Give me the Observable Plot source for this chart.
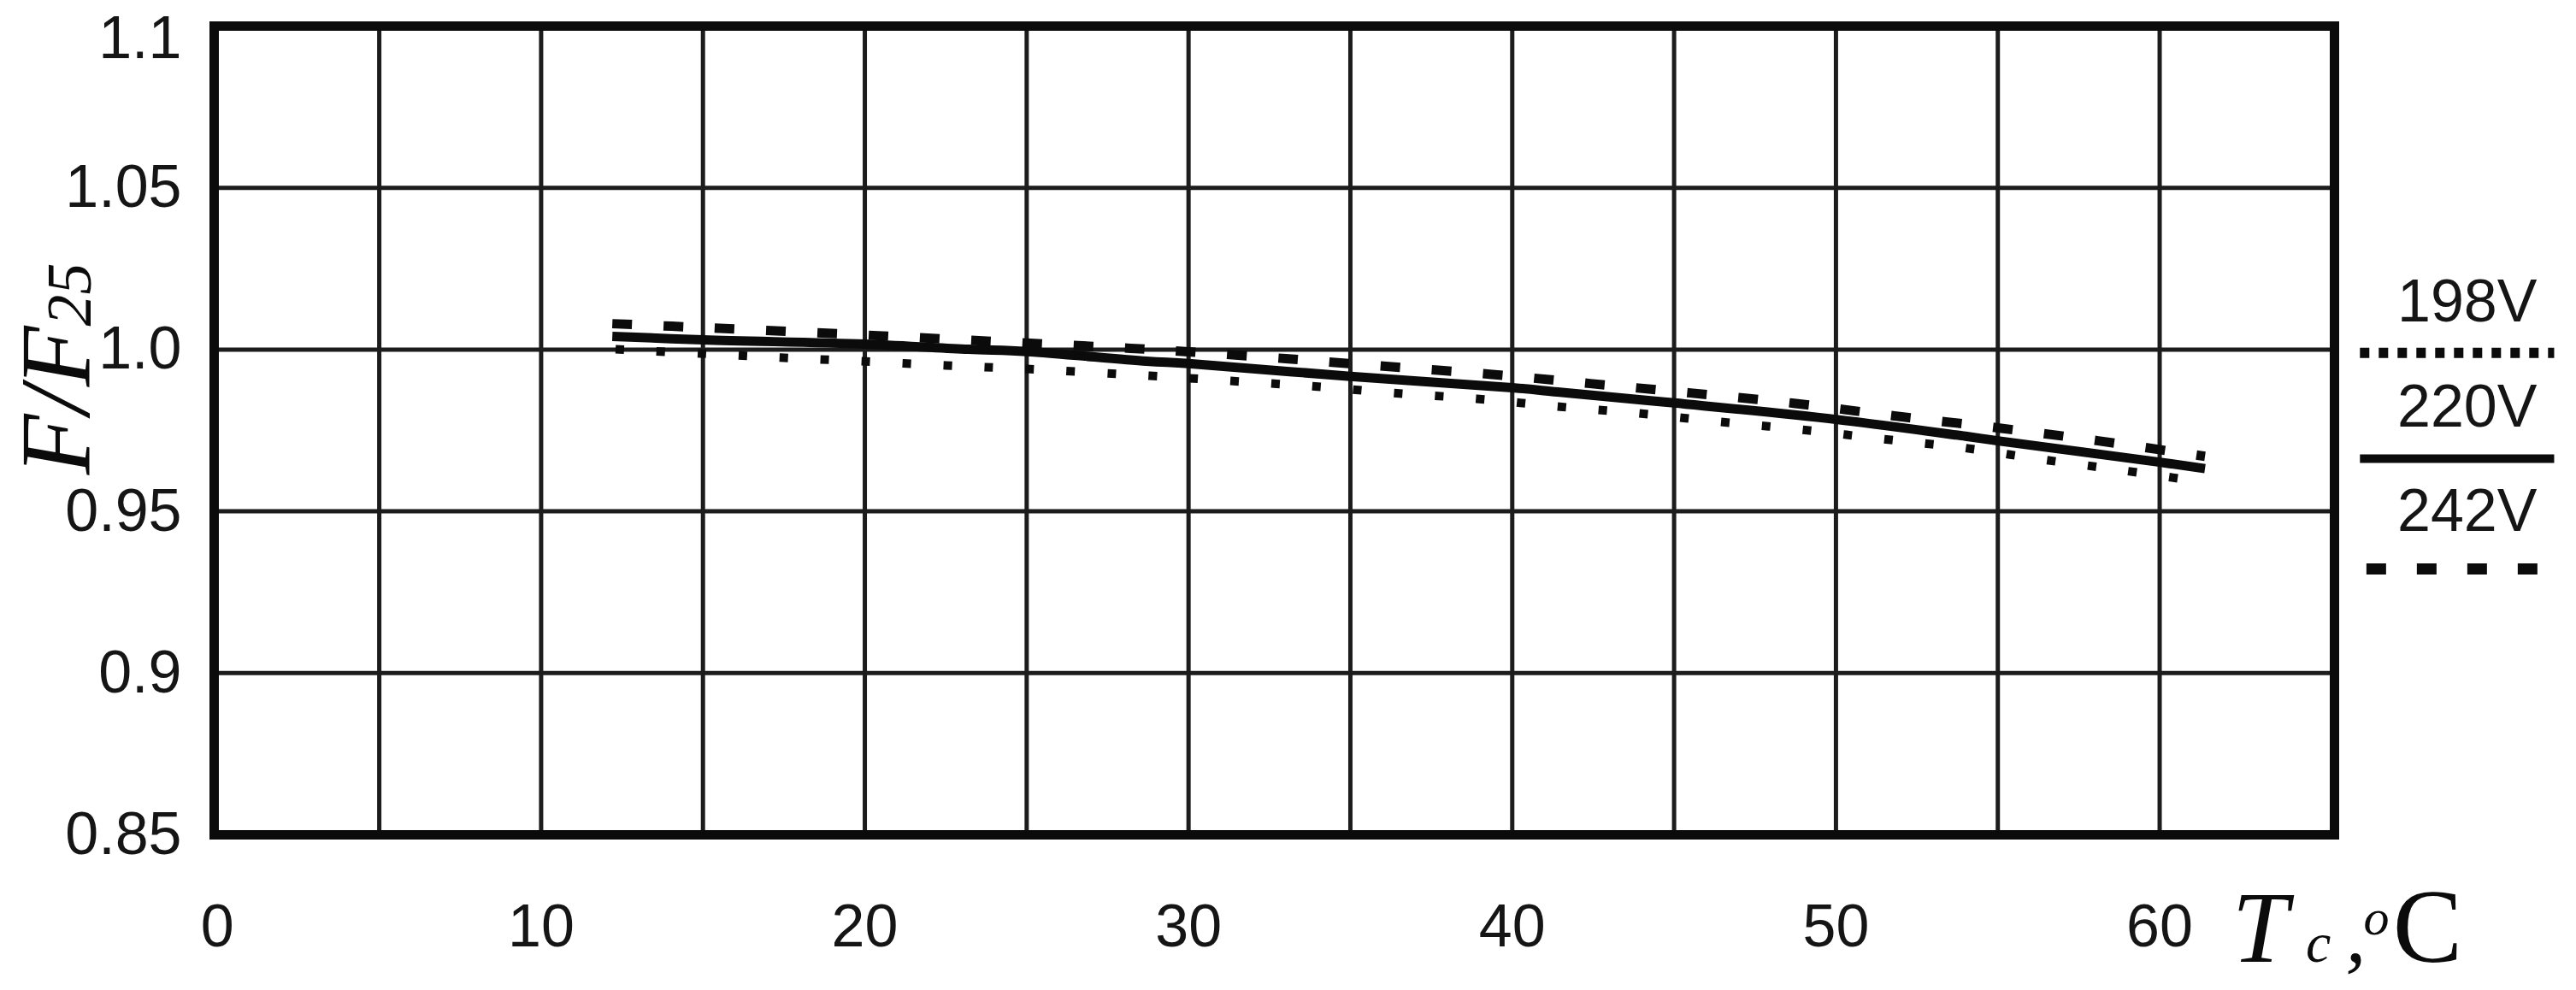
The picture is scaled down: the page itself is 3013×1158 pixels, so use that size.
<!DOCTYPE html>
<html>
<head>
<meta charset="utf-8">
<script src="https://cdn.jsdelivr.net/npm/d3@7"></script>
<script src="https://cdn.jsdelivr.net/npm/@observablehq/plot@0.6"></script>
<style>
html, body { margin: 0; padding: 0; background: #fff; overflow: hidden; }
#chart svg { display: block; }
</style>
</head>
<body>
<div id="chart"></div>
<script>
// ---- data ----
const t198 = [12.3, 14.9, 17.4, 19.9, 22.5, 25, 28.8, 31.3, 33.8, 36.3, 38.9, 41.4, 43.9, 46.4, 48.9, 51.4, 53.9, 56.4, 58.9, 61.3];
const f198 = [1.0001, 0.9988, 0.9975, 0.9964, 0.9951, 0.9940, 0.9919, 0.9903, 0.9887, 0.9866, 0.9848, 0.9824, 0.9803, 0.9777, 0.9753, 0.9724, 0.9697, 0.9660, 0.9626, 0.9591];

const t220 = [12.2, 15, 20, 23.2, 25, 28.7, 30, 35, 40, 41.4, 45, 50, 54, 55, 60, 61.4];
const f220 = [1.0041, 1.0030, 1.0017, 1.0001, 0.9994, 0.9964, 0.9957, 0.9917, 0.9882, 0.9869, 0.9835, 0.9784, 0.9732, 0.9718, 0.9652, 0.9632];

const t242 = [12.2, 15, 20.4, 25, 28.2, 30, 33, 36.1, 39.3, 42.4, 45.5, 48.7, 51.8, 55, 58.1, 61.4];
const f242 = [1.0080, 1.0068, 1.0043, 1.0020, 1.0004, 0.9993, 0.9972, 0.9948, 0.9924, 0.9895, 0.9866, 0.9834, 0.9795, 0.9758, 0.9718, 0.9670];

const seriesNames = ["198V", "220V", "242V"];
const xTicks = [0, 10, 20, 30, 40, 50, 60];
const xGrid = [5, 10, 15, 20, 25, 30, 35, 40, 45, 50, 55, 60];
const yTicks = [0.85, 0.9, 0.95, 1.0, 1.05, 1.1];
const yTickLabels = ["0.85", "0.9", "0.95", "1.0", "1.05", "1.1"];
const yGrid = [0.9, 0.95, 1.0, 1.05];

// ---- styles ----
const INK = "#0b0b0b";
const dashStyles = {"198V": "10,38", "220V": null, "242V": "23,37"};
const legendDash = {"198V": "11,11", "220V": null, "242V": "23,36"};

// legend table built from the series names
const legendRows = seriesNames.map((name, i) => ({name, i}));
const legendTextY = [1.0146, 0.9820, 0.9498];
const legendLineY = [0.9990, 0.9663, 0.9322];
const yFmt = d => yTickLabels[yTicks.indexOf(d)];

const plot = Plot.plot({
  width: 3013,
  height: 1158,
  marginLeft: 250,
  marginRight: 283,
  marginTop: 30,
  marginBottom: 182,
  style: {fontFamily: "'Liberation Sans', Arial, sans-serif", color: "#151515", background: "#fff"},
  x: {domain: [-0.1, 65.4], axis: null},
  y: {domain: [0.85, 1.1], axis: null},
  marks: [
    Plot.ruleX(xGrid, {stroke: "#1c1c1c", strokeWidth: 5}),
    Plot.ruleY(yGrid, {stroke: "#1c1c1c", strokeWidth: 5}),
    Plot.frame({stroke: INK, strokeWidth: 11}),
    Plot.axisX(xTicks, {tickSize: 0, tickPadding: 81, fontSize: 70, label: null}),
    Plot.axisY(yTicks.filter(d => d < 1.1), {tickSize: 0, tickPadding: 38, fontSize: 70, label: null, tickFormat: yFmt}),
    Plot.axisY(yTicks.filter(d => d >= 1.1), {tickSize: 0, tickPadding: 38, fontSize: 70, label: null, tickFormat: yFmt, dy: 15}),
    // curves
    Plot.line(f198, {x: t198, y: f198, stroke: INK, strokeWidth: 10, strokeDasharray: dashStyles["198V"], strokeLinecap: "butt", curve: "catmull-rom"}),
    Plot.line(f242, {x: t242, y: f242, stroke: INK, strokeWidth: 11, strokeDasharray: dashStyles["242V"], strokeLinecap: "butt", curve: "catmull-rom"}),
    Plot.line(f220, {x: t220, y: f220, stroke: INK, strokeWidth: 11, strokeLinecap: "butt", curve: "catmull-rom"}),
    // legend (outside the frame, on the right)
    Plot.text(legendRows, {x: () => 69.5, y: d => legendTextY[d.i], text: "name", fontSize: 70, fill: "#151515"}),
    Plot.ruleY(legendRows.filter(d => d.name === "198V"), {y: d => legendLineY[d.i], x1: () => 66.2, x2: () => 72.2, stroke: INK, strokeWidth: 12, strokeDasharray: legendDash["198V"]}),
    Plot.ruleY(legendRows.filter(d => d.name === "220V"), {y: d => legendLineY[d.i], x1: () => 66.2, x2: () => 72.2, stroke: INK, strokeWidth: 10}),
    Plot.ruleY(legendRows.filter(d => d.name === "242V"), {y: d => legendLineY[d.i], x1: () => 66.4, x2: () => 71.8, stroke: INK, strokeWidth: 13, strokeDasharray: legendDash["242V"]})
  ]
});

document.getElementById("chart").appendChild(plot);

// ---- rich axis titles (italic serif with sub/superscripts) ----
const sx = plot.scale("x"), sy = plot.scale("y");
const svg = d3.select(plot);
const serif = "'Liberation Serif', 'Times New Roman', serif";

// y title: F/F25, rotated
const yx = sx.apply(0) - 150, yy = sy.apply(1.0) + 23;
const yt = svg.append("text")
  .attr("transform", `translate(${yx},${yy}) rotate(-90)`)
  .attr("text-anchor", "middle")
  .attr("font-family", serif)
  .attr("font-style", "italic")
  .attr("fill", INK);
yt.append("tspan").attr("font-size", 116).text("F/F");
yt.append("tspan").attr("font-size", 74).attr("dy", 2).text("25");

// x title: Tc ,°C  (each piece placed separately)
const bx = sx.apply(60) + 118, by = sy.apply(0.85) + 149;
const pieces = [
  {t: "T", dx: 0,   dy: 0,   size: 118, italic: true},
  {t: "c", dx: 68,  dy: 0,   size: 66,  italic: true},
  {t: ",", dx: 112, dy: 0,   size: 96,  italic: true},
  {t: "o", dx: 136, dy: -32, size: 60,  italic: true},
  {t: "C", dx: 196, dy: 0,   size: 122, italic: false}
];
for (const p of pieces) {
  svg.append("text")
    .attr("x", bx + p.dx).attr("y", by + p.dy)
    .attr("font-family", serif)
    .attr("font-style", p.italic ? "italic" : "normal")
    .attr("font-size", p.size)
    .attr("fill", INK)
    .text(p.t);
}
</script>
</body>
</html>
